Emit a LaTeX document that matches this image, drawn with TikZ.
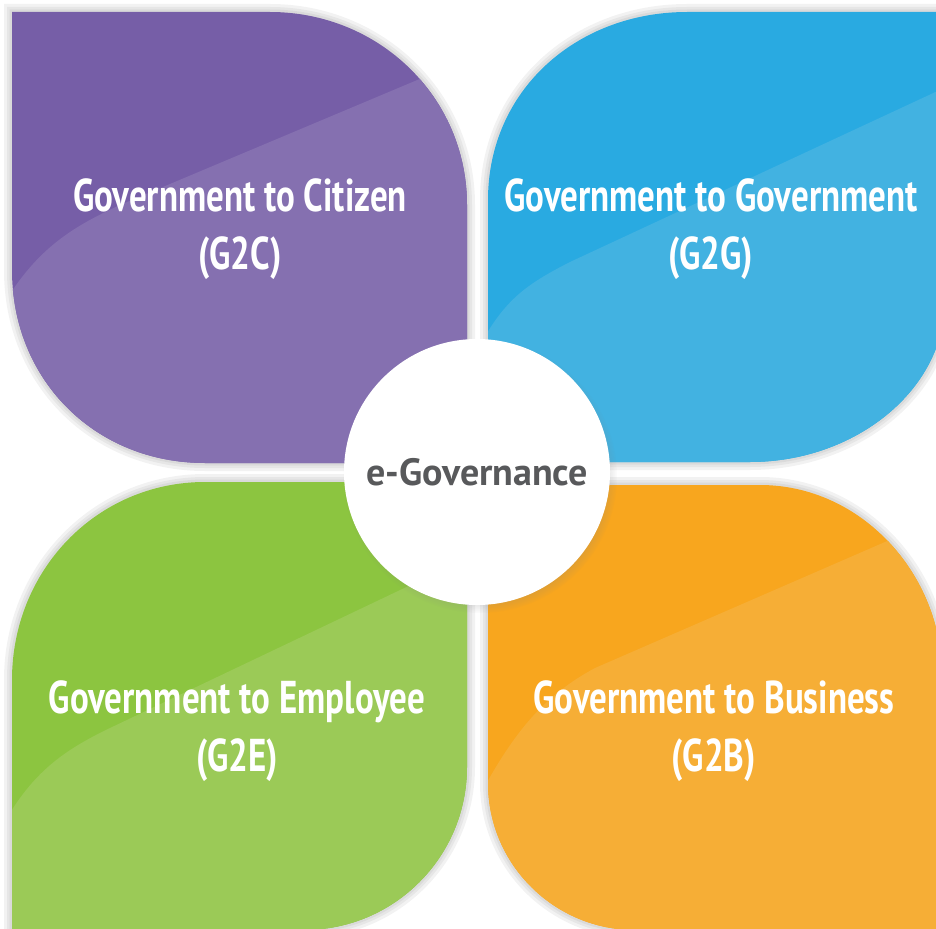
\documentclass[tikz,border=0pt]{standalone}
\usepackage{fontspec}
\setmainfont{PT Sans}
\newfontfamily\leaffont[FakeStretch=0.76]{PT Sans}
\newfontfamily\hubfont{PT Sans}
\usetikzlibrary{shadows}

\definecolor{citizenDark}{HTML}{765EA7}
\definecolor{citizenLite}{HTML}{8570B0}
\definecolor{govDark}{HTML}{29AAE1}
\definecolor{govLite}{HTML}{42B2E1}
\definecolor{empDark}{HTML}{8CC540}
\definecolor{empLite}{HTML}{9BCA57}
\definecolor{bizDark}{HTML}{F8A61E}
\definecolor{bizLite}{HTML}{F6AE36}
\definecolor{hubText}{HTML}{58595B}

\begin{document}
\begin{tikzpicture}[x=1pt,y=-1pt]
\tikzset{leaftext/.style={font=\leaffont\bfseries\fontsize{46}{58}\selectfont,text=white,align=center}}
\tikzset{halo/.style={draw=black,opacity=0.05,line width=#1}}
\tikzset{hub/.style={circle,fill=white,minimum size=266pt,inner sep=0pt,text=hubText,
  font=\hubfont\bfseries\fontsize{38}{40}\selectfont,
  circular drop shadow={shadow xshift=3pt,shadow yshift=-4pt,shadow scale=1.03,opacity=0.4}}}
\useasboundingbox (0,0) rectangle (936,928);

% leaf outlines
\path[save path=\leafCitizen] (12,12) -- (270,12) .. controls (379,12) and (467,97) .. (467,205)
  -- (467,463) -- (205,463) .. controls (95,463) and (12,380) .. (12,270) -- cycle;
\path[save path=\leafGov] (488,200) .. controls (488,90) and (577,12) .. (687,12) -- (945,12)
  -- (945,300) .. controls (945,390) and (855,462) .. (750,462) -- (488,462) -- cycle;
\path[save path=\leafEmp] (12,680) .. controls (12,570) and (97,482) .. (205,482) -- (467,482)
  -- (467,767) .. controls (467,857) and (394,930) .. (304,930) -- (12,930) -- cycle;
\path[save path=\leafBiz] (488,485) -- (760,485) .. controls (862,485) and (942,575) .. (942,675)
  -- (942,935) -- (635,930) .. controls (555,930) and (488,865) .. (488,783) -- cycle;

% soft shadows
\foreach \w in {16,10,5} {
  \path[use path=\leafCitizen,halo=\w];
  \path[use path=\leafGov,halo=\w];
  \path[use path=\leafEmp,halo=\w];
  \path[use path=\leafBiz,halo=\w];
}

% G2C
\fill[citizenDark,use path=\leafCitizen];
\begin{scope}
  \clip[use path=\leafCitizen];
  \fill[citizenLite] (0,310) .. controls (35,250) and (70,228) .. (120,205) -- (560,20) -- (560,560) -- (0,560) -- cycle;
\end{scope}
% G2G
\fill[govDark,use path=\leafGov];
\begin{scope}
  \clip[use path=\leafGov];
  \fill[govLite] (480,345) .. controls (505,300) and (525,285) .. (570,262) -- (1000,62) -- (1000,600) -- (480,600) -- cycle;
\end{scope}
% G2E
\fill[empDark,use path=\leafEmp];
\begin{scope}
  \clip[use path=\leafEmp];
  \fill[empLite] (0,830) .. controls (30,775) and (60,752) .. (110,728) -- (520,533) -- (520,960) -- (0,960) -- cycle;
\end{scope}
% G2B
\fill[bizDark,use path=\leafBiz];
\begin{scope}
  \clip[use path=\leafBiz];
  \fill[bizLite] (480,795) .. controls (515,730) and (545,695) .. (595,668) -- (1000,492) -- (1000,960) -- (480,960) -- cycle;
\end{scope}

\node[leaftext] (g2c) at (240,229) {Government to Citizen\\(G2C)};
\node[leaftext] (g2g) at (711,229) {Government to Government\\(G2G)};
\node[leaftext] (g2e) at (237,731) {Government to Employee\\(G2E)};
\node[leaftext] (g2b) at (714,731) {Government to Business\\(G2B)};

\node[hub] (hub) at (477,472) {e-Governance};
\end{tikzpicture}
\end{document}
